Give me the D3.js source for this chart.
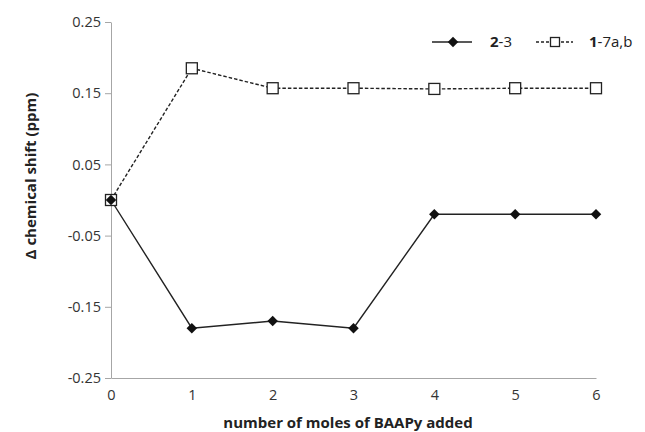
<!DOCTYPE html>
<html><head><meta charset="utf-8">
<script src="https://cdn.jsdelivr.net/npm/d3@7"></script>
<style>body{margin:0;background:#fff}text{font-family:"Open Sans",sans-serif}</style>
</head><body><svg id="c" width="645" height="432"></svg>
<script>
const xValues = [0,1,2,3,4,5,6];
const series23 = [0,-0.18,-0.17,-0.18,-0.02,-0.02,-0.02];
const series17 = [0,0.185,0.157,0.157,0.156,0.157,0.157];
const yTicks = [0.25,0.15,0.05,-0.05,-0.15,-0.25];
const xTicks = [0,1,2,3,4,5,6];

const svg = d3.select("#c");
const x = d3.scaleLinear().domain([0,6]).range([111,596]);
const y = d3.scaleLinear().domain([-0.25,0.25]).range([378,22]);
const axisColor = "#a6a6a6";

const yAxis = svg.append("g").attr("transform","translate(111,0)")
  .call(d3.axisLeft(y).tickValues(yTicks).tickSize(6).tickSizeOuter(0).tickFormat(d => d.toFixed(2)));
yAxis.select(".domain").attr("stroke",axisColor);
yAxis.selectAll(".tick line").attr("stroke",axisColor);
yAxis.selectAll(".tick text").attr("font-size",14.5).attr("fill","#333").attr("x",-10);

const xAxis = svg.append("g").attr("transform","translate(0,378)")
  .call(d3.axisBottom(x).tickValues(xTicks).tickSize(0).tickSizeOuter(0).tickFormat(d => String(d)));
xAxis.select(".domain").attr("stroke",axisColor);
xAxis.selectAll(".tick text").attr("font-size",14.5).attr("fill","#333").attr("dy","1.3em");

svg.append("text").attr("x",348).attr("y",428).attr("text-anchor","middle")
  .attr("font-size",15).attr("font-weight","bold").attr("fill","#222").text("number of moles of BAAPy added");
svg.append("text").attr("transform","translate(36,176) rotate(-90)").attr("text-anchor","middle")
  .attr("font-size",15).attr("font-weight","bold").attr("fill","#222").text("Δ chemical shift (ppm)");

const line = d3.line().x((d,i)=>x(xValues[i])).y(d=>y(d));
svg.append("path").datum(series17).attr("d",line).attr("fill","none").attr("stroke","#222")
  .attr("stroke-width",1.4).attr("stroke-dasharray","3.5,2");
svg.append("path").datum(series23).attr("d",line).attr("fill","none").attr("stroke","#222").attr("stroke-width",1.4);

const sq = 11;
svg.selectAll(".sq").data(series17).enter().append("rect")
  .attr("x",(d,i)=>x(xValues[i])-sq/2).attr("y",d=>y(d)-sq/2).attr("width",sq).attr("height",sq)
  .attr("fill","#fff").attr("stroke","#222").attr("stroke-width",1.3);
const diamond = d3.symbol().type(d3.symbolDiamond2).size(70);
svg.selectAll(".dm").data(series23).enter().append("path")
  .attr("transform",(d,i)=>`translate(${x(xValues[i])},${y(d)})`).attr("d",diamond).attr("fill","#111");

// legend
const ly = 42;
svg.append("line").attr("x1",432).attr("x2",472).attr("y1",ly).attr("y2",ly).attr("stroke","#222").attr("stroke-width",1.5);
svg.append("path").attr("transform",`translate(453,${ly})`).attr("d",diamond).attr("fill","#111");
const t1 = svg.append("text").attr("x",490).attr("y",ly+5).attr("font-size",15).attr("fill","#222");
t1.append("tspan").attr("font-weight","bold").text("2");
t1.append("tspan").text("-3");
svg.append("line").attr("x1",536).attr("x2",573).attr("y1",ly).attr("y2",ly).attr("stroke","#222").attr("stroke-width",1.5).attr("stroke-dasharray","3,2");
svg.append("rect").attr("x",555-4.5).attr("y",ly-4.5).attr("width",9).attr("height",9).attr("fill","#fff").attr("stroke","#222").attr("stroke-width",1.3);
const t2 = svg.append("text").attr("x",589).attr("y",ly+5).attr("font-size",15).attr("fill","#222");
t2.append("tspan").attr("font-weight","bold").text("1");
t2.append("tspan").text("-7a,b");
</script></body></html>
